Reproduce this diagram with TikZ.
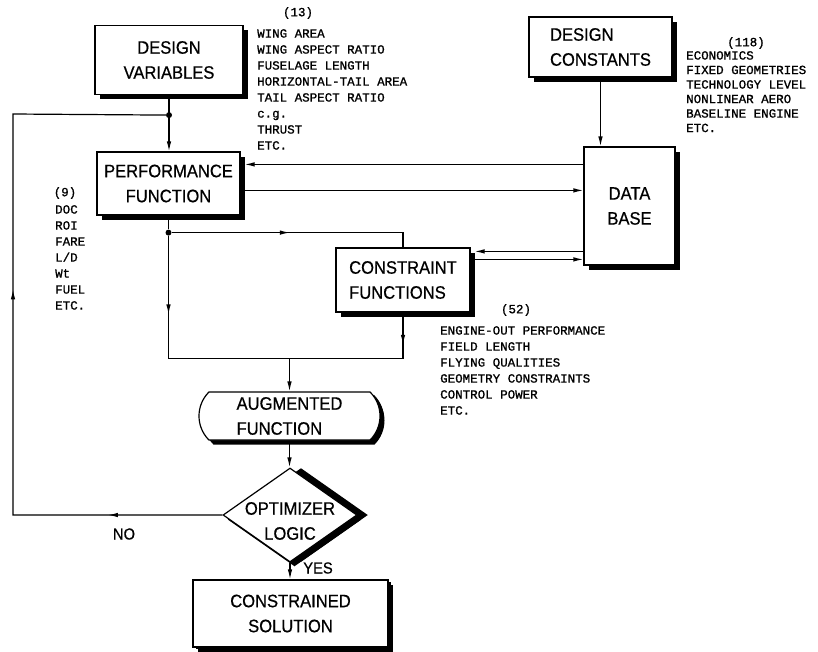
\documentclass[tikz,border=0pt]{standalone}
\usepackage{fontspec}
\setmainfont{Liberation Sans}
\newfontfamily\boxfont[FakeStretch=0.92,FakeBold=0.6]{Liberation Sans}
\newfontfamily\listfont[FakeBold=1]{Liberation Mono}
\usetikzlibrary{arrows.meta,positioning,calc,shapes.geometric,shapes.misc,shadows,decorations.markings}

\begin{document}
\begin{tikzpicture}[x=1pt, y=-1pt,
      box/.style={draw, fill=white, line width=1.2pt, align=center, inner sep=2pt,
                  font=\boxfont\fontsize{18}{25}\selectfont,
                  drop shadow={shadow xshift=4.5pt, shadow yshift=-4.5pt, fill=black, opacity=1}},
      lst/.style={font=\listfont\fontsize{12.5}{16}\selectfont, align=left, inner sep=0pt, anchor=north west},
      tag/.style={font=\listfont\fontsize{12.5}{16}\selectfont, inner sep=0pt},
      yesno/.style={font=\boxfont\fontsize{16}{18}\selectfont, inner sep=0pt},
      line/.style={line width=1.2pt},
      dot/.style={circle, fill, inner sep=0pt, minimum size=6pt},
      arrowat/.style={postaction={decorate, decoration={markings,
                      mark=at position #1 with {\arrow{>}}}}},
      >={Latex[length=10pt,width=4.5pt]}]
    \useasboundingbox (0,0) rectangle (818,651);
    % boxes
    \node[box, minimum width=148pt, minimum height=69pt] (dv) at (169,60) {DESIGN\\VARIABLES};
    \node[box, minimum width=143pt, minimum height=63pt] (pf) at (168.5,183.5) {PERFORMANCE\\FUNCTION};
    \node[box, align=left, minimum width=143pt, minimum height=60pt] (dc) at (600.5,47) {DESIGN\\CONSTANTS};
    \node[box, minimum width=91pt, minimum height=118pt] (db) at (629.5,206) {DATA\\BASE};
    \node[box, align=left, minimum width=134pt, minimum height=64pt] (cf) at (403,280) {CONSTRAINT\\FUNCTIONS};
    \node[box, align=left, rounded rectangle, rounded rectangle arc length=90,
          minimum width=185pt, minimum height=48pt,
          drop shadow={shadow xshift=4pt, shadow yshift=-3pt, fill=black, opacity=1}] (af) at (289.5,416) {AUGMENTED\\FUNCTION};
    \node[box, diamond, minimum width=134pt, minimum height=94pt, inner sep=0pt,
          drop shadow={shadow xshift=11pt, shadow yshift=0pt, fill=black, opacity=1}] (ol) at (290,515) {};
    \node[font=\boxfont\fontsize{18}{25}\selectfont, align=center, inner sep=0pt] (olt) at (290,521) {OPTIMIZER\\LOGIC};
    \node[box, minimum width=195pt, minimum height=67pt,
          drop shadow={shadow xshift=2.5pt, shadow yshift=-1.5pt, fill=black, opacity=1}] (cs) at (290.5,613.5) {CONSTRAINED\\SOLUTION};
    % lists
    \node[tag] (n13) at (298,13) {(13)};
    \node[lst] (vars) at (257,29) {WING AREA\\WING ASPECT RATIO\\FUSELAGE LENGTH\\HORIZONTAL-TAIL AREA\\TAIL ASPECT RATIO\\c.g.\\THRUST\\ETC.};
    \node[tag] (n118) at (746,43) {(118)};
    \node[lst, font=\listfont\fontsize{12.5}{14.5}\selectfont] (consts) at (686,51) {ECONOMICS\\FIXED GEOMETRIES\\TECHNOLOGY LEVEL\\NONLINEAR AERO\\BASELINE ENGINE\\ETC.};
    \node[tag] (n9) at (65,193) {(9)};
    \node[lst] (outs) at (55,205) {DOC\\ROI\\FARE\\L/D\\Wt\\FUEL\\ETC.};
    \node[tag] (n52) at (516,310) {(52)};
    \node[lst] (cons) at (440,326) {ENGINE-OUT PERFORMANCE\\FIELD LENGTH\\FLYING QUALITIES\\GEOMETRY CONSTRAINTS\\CONTROL POWER\\ETC.};
    % junctions
    \node[dot] (j1) at ($(dv.south)+(0,20)$) {};
    \node[dot] (j2) at ($(pf.south)+(0,17)$) {};
    \coordinate (fb) at (13,114);
    \coordinate (m1) at ($(j2)+(0,126)$);
    \coordinate (m2) at (cf.south |- m1);
    \coordinate (m0) at (af.north |- m1);
    % connectors
    \draw[line,->] (dv.south) -- (dv.south |- pf.north);
    \draw[line,->] (dc.south) -- (dc.south |- db.north);
    \coordinate (pb1) at ($(db.north west)+(0,18)$);
    \coordinate (pb2) at ($(db.north west)+(0,44)$);
    \coordinate (cb1) at ($(db.north west)+(0,105)$);
    \coordinate (cb2) at ($(db.north west)+(0,113)$);
    \draw[line,->] (pb1) -- ($(pf.east |- pb1)+(4,0)$);
    \draw[line,->] ($(pf.east |- pb2)+(4,0)$) -- (pb2);
    \draw[line,->] (cb1) -- ($(cf.east |- cb1)+(4,0)$);
    \draw[line,->] ($(cf.east |- cb2)+(4,0)$) -- (cb2);
    \draw[line] (pf.south) -- (j2);
    \draw[line, arrowat=0.48] (j2) -| (cf.north);
    \draw[line, arrowat=0.22] (j2) -- (m1) -- (m2);
    \draw[line, arrowat=0.7] (cf.south) -- (m2);
    \draw[line,->] (m0) -- (af.north);
    \draw[line,->] (af.south) -- (af.south |- ol.north);
    \draw[line,->] (ol.south) -- (ol.south |- cs.north);
    % feedback loop
    \draw[line, arrowat=0.15, arrowat=0.57] (ol.west) -| (fb) -- (j1);
    \node[yesno] (no) at (124,534) {NO};
    \node[yesno] (yes) at (318,568) {YES};
\end{tikzpicture}
\end{document}
